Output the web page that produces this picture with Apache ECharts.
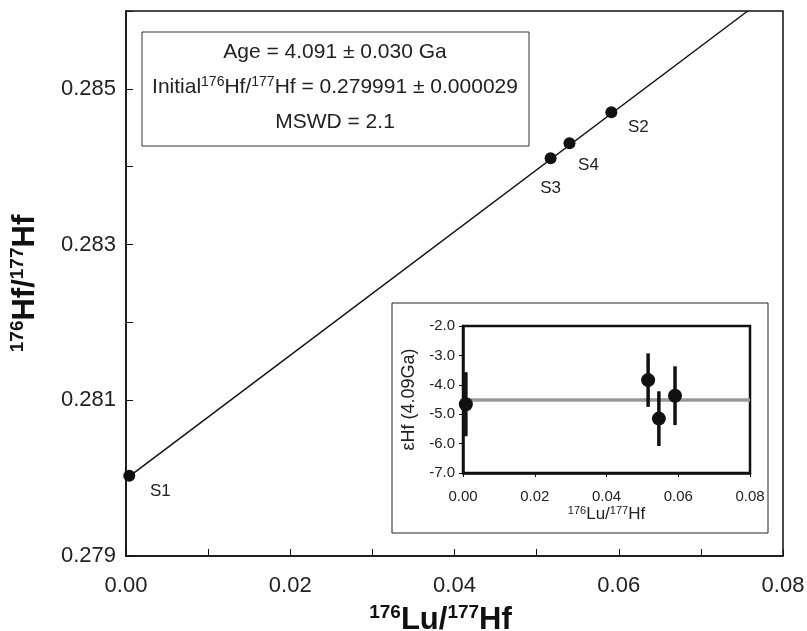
<!DOCTYPE html>
<html>
<head>
<meta charset="utf-8">
<script src="https://cdn.jsdelivr.net/npm/echarts@6/dist/echarts.min.js"></script>
<style>
  html, body { margin: 0; padding: 0; background: #fff; }
  #chart { width: 807px; height: 631px; }
</style>
</head>
<body>
<div id="chart"></div>
<script>
// main isochron: 176Lu/177Hf vs 176Hf/177Hf
var sampleNames = ['S1', 'S2', 'S3', 'S4'];
var luHf = [0.0004, 0.0591, 0.0517, 0.0540];
var hfHf = [0.28003, 0.28470, 0.28411, 0.28430];
// regression line ends (initial ratio at x=0, leaves the top of the plot)
var isoX = [0, 0.0757];
var isoY = [0.279991, 0.286];
var mainYLabels = ['0.279', '0.281', '0.283', '0.285'];
var mainXLabels = ['0.00', '0.02', '0.04', '0.06', '0.08'];

// inset: epsilon Hf at 4.09 Ga
var epsX = [0.0008, 0.0516, 0.0546, 0.0591];
var epsY = [-4.66, -3.84, -5.15, -4.37];
var epsErr = [1.09, 0.91, 0.93, 1.0];
var epsMean = -4.52;

var FONT = 'Liberation Sans, Arial, Helvetica, sans-serif';
var chart = echarts.init(document.getElementById('chart'));

// label offsets for S1..S4
var labOff = {S1: [31, 16], S2: [27, 15], S3: [0, 30], S4: [19, 22]};

var pts = [];
for (var i = 0; i < sampleNames.length; i++) {
  pts.push({
    name: sampleNames[i],
    value: [luHf[i], hfHf[i]],
    label: { offset: labOff[sampleNames[i]] }
  });
}
var isoLine = isoX.map(function (x, i) { return [x, isoY[i]]; });
var epsPts = epsX.map(function (x, i) { return [x, epsY[i], epsErr[i]]; });

var option = {
  animation: false,
  backgroundColor: '#fff',
  textStyle: { fontFamily: FONT },
  grid: [
    { left: 126, right: 24, top: 11, bottom: 75, outerBoundsMode: 'none', containLabel: false,
      show: true, borderColor: '#111', borderWidth: 1.5 },
    { left: 463, right: 57, top: 326, bottom: 158, outerBoundsMode: 'none', containLabel: false,
      show: true, borderColor: '#111', borderWidth: 2.5 }
  ],
  xAxis: [{
    type: 'value', gridIndex: 0, min: 0, max: 0.08, interval: 0.01,
    name: '{s|176}{b|Lu/}{s|177}{b|Hf}', nameLocation: 'middle', nameGap: 47,
    nameTextStyle: {
      padding: [0, 28, 0, 0],
      rich: {
        b: { fontSize: 31, fontWeight: 'bold', color: '#111', fontFamily: FONT, lineHeight: 34 },
        s: { fontSize: 19, fontWeight: 'bold', color: '#111', fontFamily: FONT, verticalAlign: 'top', lineHeight: 34 }
      }
    },
    axisLine: { lineStyle: { color: '#111', width: 1.5 } },
    axisTick: { inside: true, length: 7, lineStyle: { color: '#111', width: 1 } },
    splitLine: { show: false },
    axisLabel: {
      fontSize: 22, color: '#222', margin: 19, fontFamily: FONT,
      formatter: function (v) { var s = v.toFixed(2); return mainXLabels.indexOf(s) >= 0 ? s : ''; }
    }
  }, {
    type: 'value', gridIndex: 1, min: 0, max: 0.08, interval: 0.02,
    name: '{s|176}{b|Lu/}{s|177}{b|Hf}', nameLocation: 'middle', nameGap: 32,
    nameTextStyle: {
      rich: {
        b: { fontSize: 17, color: '#222', fontFamily: FONT, lineHeight: 18 },
        s: { fontSize: 11, color: '#222', fontFamily: FONT, verticalAlign: 'top', lineHeight: 18 }
      }
    },
    axisLine: { lineStyle: { color: '#111', width: 2.5 } },
    axisTick: { length: 4, lineStyle: { color: '#111', width: 1 } },
    splitLine: { show: false },
    axisLabel: { fontSize: 15, color: '#222', margin: 16, fontFamily: FONT,
      formatter: function (v) { return v.toFixed(2); } }
  }],
  yAxis: [{
    type: 'value', gridIndex: 0, min: 0.279, max: 0.286, interval: 0.001,
    name: '{s|176}{b|Hf/}{s|177}{b|Hf}', nameLocation: 'middle', nameGap: 84, nameRotate: 90,
    nameTextStyle: {
      rich: {
        b: { fontSize: 31, fontWeight: 'bold', color: '#111', fontFamily: FONT, lineHeight: 34 },
        s: { fontSize: 19, fontWeight: 'bold', color: '#111', fontFamily: FONT, verticalAlign: 'top', lineHeight: 34 }
      }
    },
    axisLine: { lineStyle: { color: '#111', width: 1.5 } },
    axisTick: { inside: true, length: 7, lineStyle: { color: '#111', width: 1 } },
    splitLine: { show: false },
    axisLabel: {
      fontSize: 22, color: '#222', margin: 10, fontFamily: FONT,
      formatter: function (v) { var s = v.toFixed(3); return mainYLabels.indexOf(s) >= 0 ? s : ''; }
    }
  }, {
    type: 'value', gridIndex: 1, min: -7, max: -2, interval: 1,
    name: 'εHf (4.09Ga)', nameLocation: 'middle', nameGap: 45, nameRotate: 90,
    nameTextStyle: { fontSize: 18, color: '#222', fontFamily: FONT },
    axisLine: { lineStyle: { color: '#111', width: 2.5 } },
    axisTick: { length: 4, lineStyle: { color: '#111', width: 1 } },
    splitLine: { show: false },
    axisLabel: { fontSize: 15, color: '#222', margin: 8, fontFamily: FONT,
      formatter: function (v) { return v.toFixed(1); } }
  }],
  graphic: [
    { type: 'rect', z: -1, shape: { x: 142, y: 32, width: 387, height: 114 },
      style: { fill: '#fff', stroke: '#333', lineWidth: 1 } },
    { type: 'text', x: 335, y: 52,
      style: { text: 'Age = 4.091 ± 0.030 Ga', font: '21px ' + FONT, fill: '#222', align: 'center', verticalAlign: 'middle' } },
    { type: 'text', x: 335, y: 87,
      style: {
        text: '{b|Initial}{s|176}{b|Hf/}{s|177}{b|Hf = 0.279991 ± 0.000029}',
        align: 'center', verticalAlign: 'middle',
        rich: {
          b: { fontSize: 21, fill: '#222', fontFamily: FONT, lineHeight: 24 },
          s: { fontSize: 14, fill: '#222', fontFamily: FONT, verticalAlign: 'top', lineHeight: 24 }
        }
      } },
    { type: 'text', x: 335, y: 122,
      style: { text: 'MSWD = 2.1', font: '21px ' + FONT, fill: '#222', align: 'center', verticalAlign: 'middle' } },
    { type: 'rect', z: -1, shape: { x: 392, y: 303, width: 376, height: 230 },
      style: { fill: '#fff', stroke: '#222', lineWidth: 1 } }
  ],
  series: [{
    type: 'line', xAxisIndex: 0, yAxisIndex: 0, data: isoLine,
    symbol: 'none', lineStyle: { color: '#111', width: 1.5 }
  }, {
    type: 'scatter', xAxisIndex: 0, yAxisIndex: 0, data: pts,
    symbolSize: 12, itemStyle: { color: '#111', opacity: 1 },
    label: { show: true, formatter: '{b}', fontSize: 17, color: '#222', fontFamily: FONT, position: 'inside' }
  }, {
    type: 'line', xAxisIndex: 1, yAxisIndex: 1,
    data: [[0, epsMean], [0.08, epsMean]],
    symbol: 'none', lineStyle: { color: '#999', width: 3.5 }, z: 2
  }, {
    type: 'custom', xAxisIndex: 1, yAxisIndex: 1, data: epsPts, z: 3,
    encode: { x: 0, y: 1 },
    renderItem: function (params, api) {
      var x = api.value(0), y = api.value(1), e = api.value(2);
      var p1 = api.coord([x, y + e]), p2 = api.coord([x, y - e]);
      return { type: 'line', shape: { x1: p1[0], y1: p1[1], x2: p2[0], y2: p2[1] },
        style: { stroke: '#111', lineWidth: 3.5 } };
    }
  }, {
    type: 'scatter', xAxisIndex: 1, yAxisIndex: 1, data: epsPts, z: 4,
    encode: { x: 0, y: 1 },
    symbolSize: 14, itemStyle: { color: '#111', opacity: 1 }
  }]
};
chart.setOption(option);
</script>
</body>
</html>
